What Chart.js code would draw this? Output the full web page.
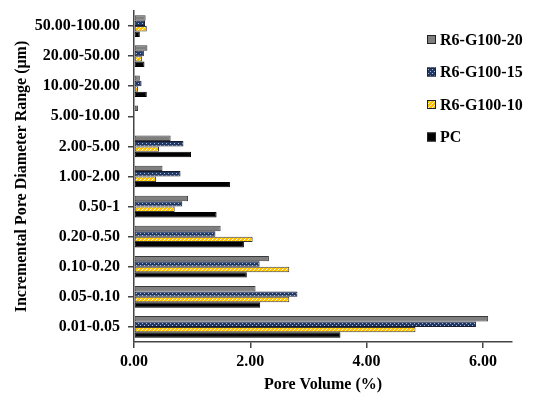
<!DOCTYPE html>
<html>
<head>
<meta charset="utf-8">
<script src="https://cdn.jsdelivr.net/npm/chart.js@4"></script>
<style>
  html, body { margin: 0; padding: 0; background: #fff; }
  #wrap { width: 533px; height: 399px; position: relative; }
</style>
</head>
<body>
<div id="wrap"><canvas id="poreChart"></canvas></div>
<script>
// categories, top to bottom
var ranges = ['50.00-100.00', '20.00-50.00', '10.00-20.00', '5.00-10.00', '2.00-5.00',
    '1.00-2.00', '0.50-1', '0.20-0.50', '0.10-0.20', '0.05-0.10', '0.01-0.05'];
var seriesNames = ['R6-G100-20', 'R6-G100-15', 'R6-G100-10', 'PC'];
var g100_20 = [0.20, 0.23, 0.10, 0.07, 0.63, 0.49, 0.93, 1.49, 2.32, 2.09, 6.09];
var g100_15 = [0.19, 0.17, 0.13, 0, 0.85, 0.80, 0.83, 1.40, 2.16, 2.81, 5.88];
var g100_10 = [0.22, 0.14, 0.07, 0, 0.43, 0.38, 0.70, 2.04, 2.67, 2.67, 4.84];
var pcVals = [0.10, 0.18, 0.22, 0, 0.98, 1.65, 1.42, 1.89, 1.94, 2.17, 3.55];
var xTicks = [0, 2, 4, 6];

var serif = "'Liberation Serif', 'Times New Roman', serif";

function makePattern(bg, draw) {
    var c = document.createElement('canvas');
    c.width = 4; c.height = 4;
    var g = c.getContext('2d');
    g.fillStyle = bg;
    g.fillRect(0, 0, 4, 4);
    draw(g);
    return g.createPattern(c, 'repeat');
}

//navy with light dots
var dotFill = makePattern('#1f3864', function(g){
    g.fillStyle = '#a9bde0';
    g.fillRect(0, 1, 1, 1);
    g.fillRect(2, 3, 1, 1);
});
//yellow with white diagonal stripes
var hatchFill = makePattern('#ffc000', function(g){
    g.fillStyle = '#fff6d8';
    g.fillRect(3, 0, 1, 1);
    g.fillRect(2, 1, 1, 1);
    g.fillRect(1, 2, 1, 1);
    g.fillRect(0, 3, 1, 1);
});

var fills = ['#7f7f7f', dotFill, hatchFill, '#000000'];
var borders = ['#3a3a3a', '#1a1a2e', '#3a3a3a', '#000000'];
var values = [g100_20, g100_15, g100_10, pcVals];

var datasets = [];
for (let i = 0; i < seriesNames.length; i++) {
    datasets.push({
        label: seriesNames[i],
        data: values[i],
        backgroundColor: fills[i],
        borderColor: borders[i],
        borderWidth: function(ctx){ return ctx.raw ? 1 : 0; },
        borderSkipped: false,
        categoryPercentage: 0.72,
        barPercentage: 1
    });
}

//legend drawn at the upper right, over the plot
var sideLegend = {
    id: 'sideLegend',
    afterDraw: function(chart) {
        var ctx = chart.ctx;
        ctx.save();
        ctx.font = 'bold 16px ' + serif;
        ctx.textBaseline = 'middle';
        ctx.textAlign = 'left';
        for (let i = 0; i < seriesNames.length; i++) {
            var y = 39.5 + i * 32.5;
            ctx.fillStyle = fills[i];
            ctx.fillRect(427, y - 4.5, 9, 9);
            ctx.strokeStyle = '#222';
            ctx.lineWidth = 1;
            ctx.strokeRect(427.5, y - 4, 8, 8);
            ctx.fillStyle = '#000';
            ctx.fillText(seriesNames[i], 440, y + 1);
        }
        ctx.restore();
    }
};

var config = {
    type: 'bar',
    data: { labels: ranges, datasets: datasets },
    options: {
        indexAxis: 'y',
        responsive: true,
        maintainAspectRatio: false,
        animation: false,
        layout: { padding: { left: 8, top: 11, right: 21, bottom: 1 } },
        plugins: {
            legend: { display: false },
            tooltip: { enabled: false }
        },
        scales: {
            x: {
                min: 0,
                max: 6.5,
                afterBuildTicks: function(scale){
                    scale.ticks = xTicks.map(function(v){ return { value: v }; });
                },
                afterFit: function(scale){
                    scale.height = 56;
                    scale.paddingLeft = 0;
                    scale.paddingRight = 0;
                },
                border: { color: '#444', width: 1.5 },
                grid: { drawOnChartArea: false, drawTicks: true, tickLength: 6, color: '#444', lineWidth: 1.5 },
                ticks: {
                    color: '#000',
                    padding: 4,
                    font: { family: serif, size: 16, weight: 'bold' },
                    callback: function(v){ return Number(v).toFixed(2); }
                },
                title: {
                    display: true,
                    text: 'Pore Volume (%)',
                    color: '#000',
                    font: { family: serif, size: 16, weight: 'bold' },
                    padding: { top: 2, bottom: 4 }
                }
            },
            y: {
                afterFit: function(scale){
                    scale.width = 126;
                    scale.paddingTop = 0;
                    scale.paddingBottom = 0;
                },
                border: { color: '#444', width: 1.5 },
                grid: { drawOnChartArea: false, drawTicks: true, tickLength: 6, offset: false, color: '#444', lineWidth: 1.5 },
                ticks: {
                    color: '#000',
                    padding: 8,
                    autoSkip: false,
                    font: { family: serif, size: 16, weight: 'bold' }
                },
                title: {
                    display: true,
                    text: 'Incremental Pore Diameter Range (μm)',
                    color: '#000',
                    font: { family: serif, size: 16, weight: 'bold' },
                    padding: { top: 4, bottom: 4 }
                }
            }
        }
    },
    plugins: [sideLegend]
};

new Chart(document.getElementById('poreChart'), config);
</script>
</body>
</html>
